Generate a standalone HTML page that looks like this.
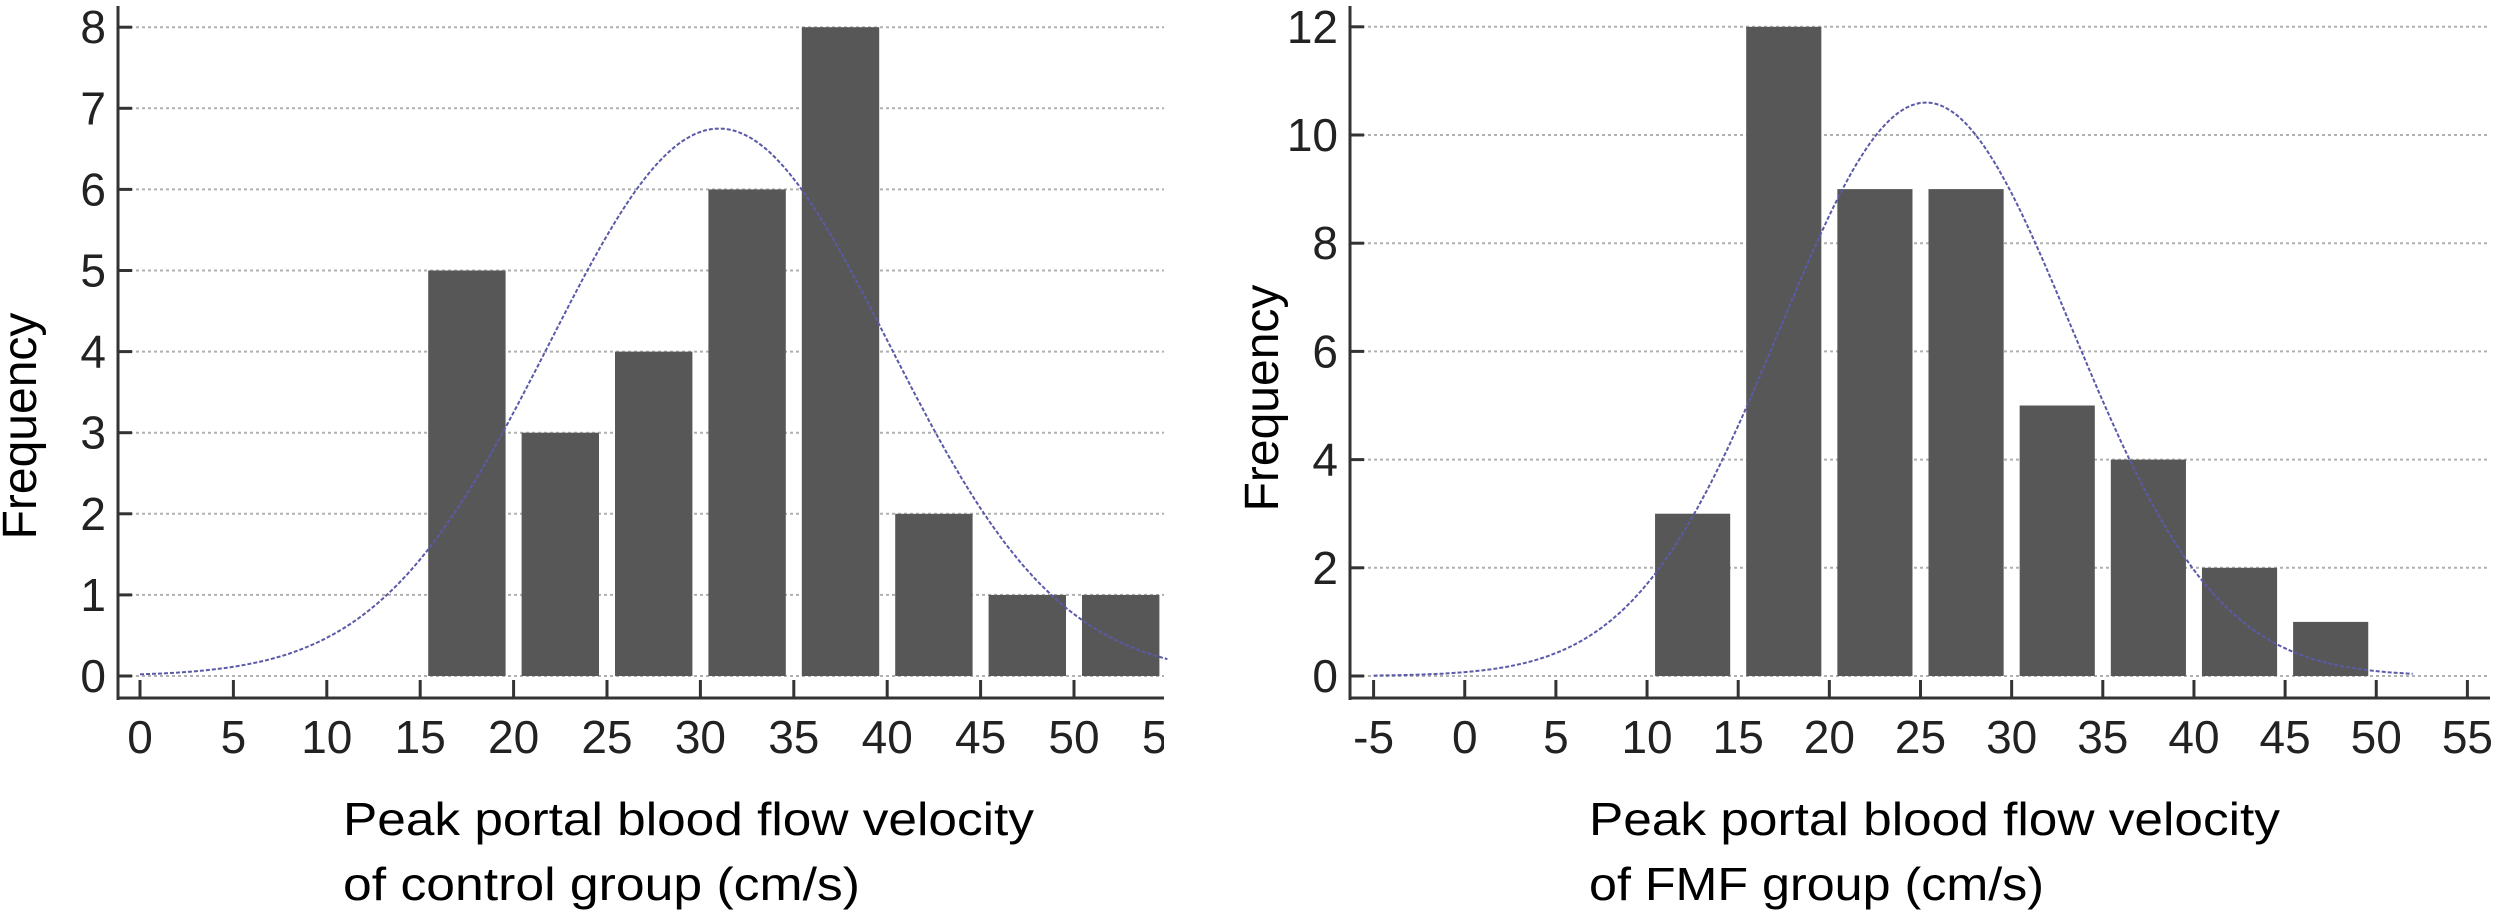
<!DOCTYPE html>
<html><head><meta charset="utf-8"><style>
html,body{margin:0;padding:0;background:#fff;}
svg text{font-family:"Liberation Sans",Arial,sans-serif;}
</style></head>
<body>
<svg id="chart" width="2500" height="916" viewBox="0 0 2500 916" xmlns="http://www.w3.org/2000/svg"></svg>
<script>
// Panel A: control group
const ctrlBinStarts = [15,20,25,30,35,40,45,50];
const ctrlCounts = [5,3,4,6,8,2,1,1];
const ctrlXTicks = [0,5,10,15,20,25,30,35,40,45,50,55];
const ctrlYTicks = [0,1,2,3,4,5,6,7,8];
const ctrlCurve = {mean:31, sd:9.1, peak:6.75};
// Panel B: FMF group
const fmfBinStarts = [10,15,20,25,30,35,40,45];
const fmfCounts = [3,12,9,9,5,4,2,1];
const fmfXTicks = [-5,0,5,10,15,20,25,30,35,40,45,50,55];
const fmfYTicks = [0,2,4,6,8,10,12];
const fmfCurve = {mean:25.3, sd:8, peak:10.6};

const NS="http://www.w3.org/2000/svg";
const svg=document.getElementById('chart');
function mk(tag,attrs,parent){const e=document.createElementNS(NS,tag);for(const k in attrs)e.setAttribute(k,attrs[k]);(parent||svg).appendChild(e);return e;}

function panel(cfg){
  const g=mk('g',{});
  
  
  const xs=v=>cfg.x0+(v-cfg.xv0)*cfg.xu;
  const ys=v=>cfg.y0-v*cfg.yu;
  cfg.yTicks.forEach(t=>{
    const l=mk('line',{x1:cfg.axX+6,x2:cfg.axRight,y1:ys(t),y2:ys(t),stroke:'#b0b0b0','stroke-width':2,'stroke-dasharray':'3,3'},g);
    
    
  });
  cfg.bins.forEach((b,i)=>{
    const x1=xs(b)+8,x2=xs(b+cfg.binW)-8;
    const r=mk('rect',{x:x1,y:ys(cfg.counts[i]),width:x2-x1,height:ys(0)-ys(cfg.counts[i]),fill:'#575757'},g);
    
    
  });
  let d='';
  for(let v=cfg.cStart;v<=cfg.cEnd;v+=0.25){
    const f=cfg.curve.peak*Math.exp(-Math.pow(v-cfg.curve.mean,2)/(2*cfg.curve.sd*cfg.curve.sd));
    d+=(d?'L':'M')+xs(v).toFixed(1)+','+ys(f).toFixed(1);
  }
  const p=mk('path',{d:d,fill:'none',stroke:'#5a5aa8','stroke-width':2,'stroke-dasharray':'4,2'},g);
  
  
  const ya=mk('line',{x1:cfg.axX,x2:cfg.axX,y1:6,y2:cfg.axY+2,stroke:'#333','stroke-width':3},g);
  
  
  const xa=mk('line',{x1:cfg.axX,x2:cfg.axRight,y1:cfg.axY,y2:cfg.axY,stroke:'#333','stroke-width':3},g);
  
  
  cfg.yTicks.forEach(t=>{
    mk('line',{x1:cfg.axX,x2:cfg.axX+14,y1:ys(t),y2:ys(t),stroke:'#333','stroke-width':3},g);
    const tx=mk('text',{x:cfg.axX-12,y:ys(t)+16,'font-size':46,'text-anchor':'end',fill:'#222'},g);
    tx.textContent=t;
    
    
  });
  cfg.xTicks.forEach(t=>{
    const x=xs(t);
    if(x<=cfg.axRight) mk('line',{x1:x,x2:x,y1:cfg.axY,y2:cfg.axY-18,stroke:'#333','stroke-width':3},g);
    const tx=mk('text',{x:x,y:753,'font-size':46,'text-anchor':'middle',fill:'#222'},g);
    tx.textContent=t;
    
    
  });
  const yt=mk('text',{x:0,y:0,'font-size':48,'text-anchor':'middle',fill:'#000',transform:`translate(${cfg.ytX},${cfg.ytY}) rotate(-90)`},g);
  yt.textContent='Frequency';
  
  
  const t1=mk('text',{x:cfg.titleX,y:835,'font-size':46,fill:'#000',textLength:cfg.l1,lengthAdjust:'spacingAndGlyphs'},g);
  t1.textContent='Peak portal blood flow velocity';
  
  
  const t2=mk('text',{x:cfg.titleX,y:900,'font-size':46,fill:'#000',textLength:cfg.l2,lengthAdjust:'spacingAndGlyphs'},g);
  t2.textContent=cfg.line2;
  
  
}
panel({name:'control-histogram',x0:140,xv0:0,xu:18.68,y0:676,yu:81.1,axX:118,axY:698,axRight:1164,
  bins:ctrlBinStarts,counts:ctrlCounts,binW:5,xTicks:ctrlXTicks,yTicks:ctrlYTicks,curve:ctrlCurve,cStart:0,cEnd:55,
  ytX:36,ytY:426,titleX:343,l1:691,l2:517,line2:'of control group (cm/s)'});
mk('rect',{x:1164,y:700,width:60,height:70,fill:'#fff'});
panel({name:'fmf-histogram',x0:1373.6,xv0:-5,xu:18.23,y0:676,yu:54.1,axX:1350,axY:698,axRight:2490,
  bins:fmfBinStarts,counts:fmfCounts,binW:5,xTicks:fmfXTicks,yTicks:fmfYTicks,curve:fmfCurve,cStart:-5,cEnd:52,
  ytX:1278,ytY:398,titleX:1589,l1:691,l2:455,line2:'of FMF group (cm/s)'});
</script>
</body></html>
